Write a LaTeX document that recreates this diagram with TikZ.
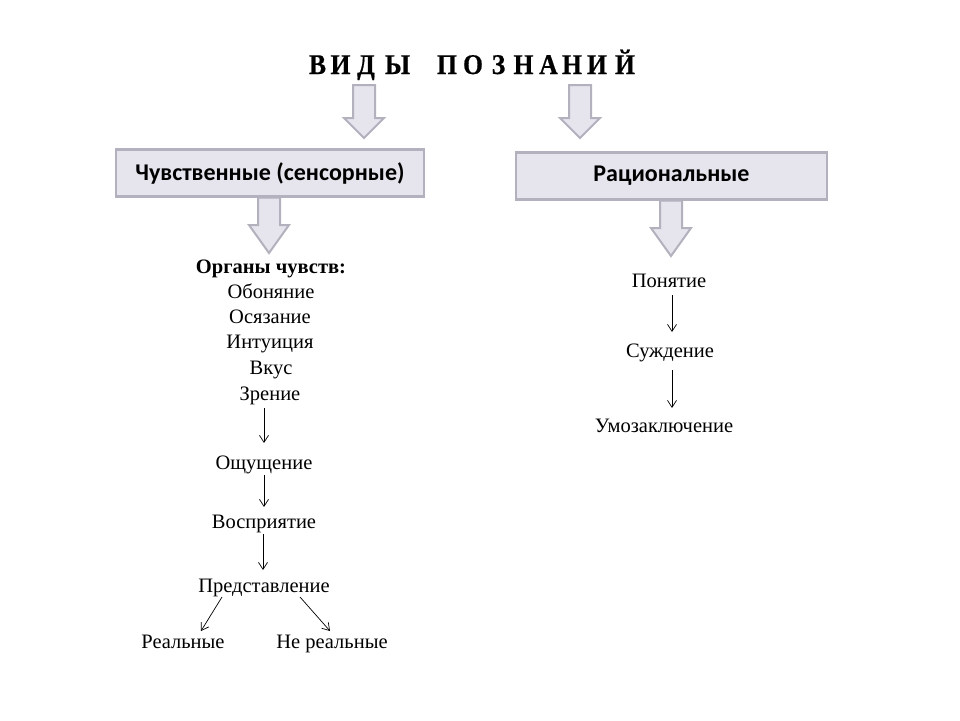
\documentclass[tikz,border=0pt]{standalone}
\usepackage{fontspec}
\setmainfont{Liberation Serif}
\newfontfamily\boxfont{Carlito}
\newfontfamily\ttlfont[FakeStretch=0.9,BoldFeatures={FakeBold=0.6}]{Liberation Serif}
\usetikzlibrary{arrows.meta}
\definecolor{boxfill}{HTML}{E6E4ED}
\definecolor{boxline}{HTML}{B3B1BD}
\newcommand\blockarr[4]{% x, top, base, tip
  \filldraw[boxfill, draw=boxline, line width=2pt, line join=miter]
    (#1-11,#2) -- (#1+11,#2) -- (#1+11,#3) -- (#1+20,#3) -- (#1,#4)
    -- (#1-20,#3) -- (#1-11,#3) -- cycle;}
\begin{document}
\begin{tikzpicture}[x=1pt,y=-1pt,
  lab/.style={font=\fontsize{20.5}{20.5}\selectfont, inner sep=0pt, anchor=base},
  thinarr/.style={draw, line width=0.7pt, -{Straight Barb[length=7pt,width=9pt]}},
  ttl/.style={font=\ttlfont\bfseries\fontsize{28.5}{28.5}\selectfont, inner sep=0pt, anchor=base},
  catbox/.style={draw=boxline, fill=boxfill, line width=2.5pt, minimum height=47pt,
    font=\boxfont\bfseries\fontsize{24}{24}\selectfont, inner sep=0pt}]
\useasboundingbox (0,0) rectangle (960,720);
\fill[white] (0,0) rectangle (960,720);
% title: В И Д Ы   П О З Н А Н И Й
\node[ttl] (t1) at (317.5,74) {В};
\node[ttl] (t2) at (340.5,74) {И};
\node[ttl] (t3) at (366,74) {Д};
\node[ttl] (t4) at (397.5,74) {Ы};
\node[ttl] (t5) at (447,74) {П};
\node[ttl] (t6) at (473,74) {О};
\node[ttl] (t7) at (498.5,74) {З};
\node[ttl] (t8) at (523.5,74) {Н};
\node[ttl] (t9) at (548.5,74) {А};
\node[ttl] (t10) at (572,74) {Н};
\node[ttl] (t11) at (597,74) {И};
\node[ttl] (t12) at (625,74) {Й};
% block arrows from title
\blockarr{364}{85}{118}{138}
\blockarr{580}{85}{118}{138}
% category boxes
\node[catbox, minimum width=308pt] (sens) at (270,173) {Чувственные (сенсорные)};
\node[catbox, minimum width=311pt] (rat) at (671.5,176) {Рациональные};
% block arrows from boxes
\blockarr{269}{197.5}{225}{253}
\blockarr{671}{200.5}{228}{256}
% left column
\node[lab, font=\bfseries\fontsize{20.5}{20.5}\selectfont] (org) at (271,273) {Органы чувств:};
\node[lab] (obo) at (271,298) {Обоняние};
\node[lab] (osy) at (270,323) {Осязание};
\node[lab] (int) at (270,348) {Интуиция};
\node[lab] (vk) at (271,374) {Вкус};
\node[lab] (zr) at (270,400) {Зрение};
\node[lab] (osh) at (264,469) {Ощущение};
\node[lab] (vos) at (264,528) {Восприятие};
\node[lab] (pre) at (264,592) {Представление};
\node[lab] (real) at (183,648) {Реальные};
\node[lab] (nreal) at (332,648) {Не реальные};
\coordinate (z0) at (264,408);
\coordinate (z1) at (264,443);
\draw[thinarr] (z0) -- (z1);
\coordinate (o0) at (264,475);
\coordinate (o1) at (264,507);
\draw[thinarr] (o0) -- (o1);
\coordinate (v0) at (263,534);
\coordinate (v1) at (263,570);
\draw[thinarr] (v0) -- (v1);
\coordinate (p1) at (222,597);
\coordinate (p2) at (201,631);
\coordinate (p3) at (300,597);
\coordinate (p4) at (330,631);
\draw[thinarr] (p1) -- (p2);
\draw[thinarr] (p3) -- (p4);
% right column
\node[lab] (pon) at (669,287) {Понятие};
\node[lab] (suj) at (670,357) {Суждение};
\node[lab] (umo) at (664,432) {Умозаключение};
\coordinate (r0) at (672,295);
\coordinate (r1) at (672,332);
\coordinate (r2) at (672,370);
\coordinate (r3) at (672,408);
\draw[thinarr] (r0) -- (r1);
\draw[thinarr] (r2) -- (r3);
\end{tikzpicture}
\end{document}
